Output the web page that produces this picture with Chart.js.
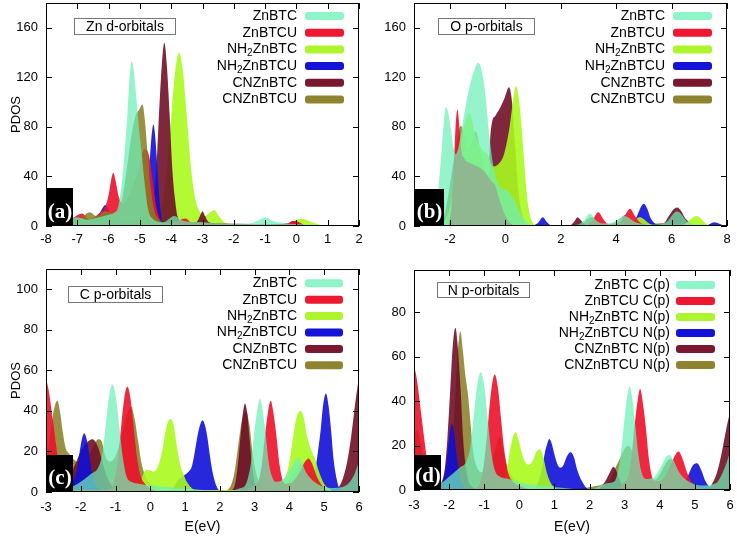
<!DOCTYPE html>
<html>
<head>
<meta charset="utf-8">
<script src="https://cdn.jsdelivr.net/npm/chart.js@4.4.1/dist/chart.umd.min.js"></script>
<style>
  body { margin: 0; background: #fff; }
  #wrap { position: relative; width: 737px; height: 542px; }
  .panel { position: absolute; }
  canvas { display: block; }
</style>
</head>
<body>
<div id="wrap">
  <div class="panel" style="left:0;top:0"><canvas id="chartA" width="368" height="250" style="width:368px;height:250px"></canvas></div>
  <div class="panel" style="left:368px;top:0"><canvas id="chartB" width="369" height="250" style="width:369px;height:250px"></canvas></div>
  <div class="panel" style="left:0;top:250px"><canvas id="chartC" width="368" height="292" style="width:368px;height:292px"></canvas></div>
  <div class="panel" style="left:368px;top:250px"><canvas id="chartD" width="369" height="292" style="width:369px;height:292px"></canvas></div>
</div>
<script>
// legend names
const seriesNames = ["ZnBTC", "ZnBTCU", "NH₂ZnBTC", "NH₂ZnBTCU", "CNZnBTC", "CNZnBTCU"];
const seriesNamesN = ["ZnBTC C(p)", "ZnBTCU C(p)", "NH₂ZnBTC N(p)", "NH₂ZnBTCU N(p)", "CNZnBTC N(p)", "CNZnBTCU N(p)"];

// tick labels
const xTicksA = [-8, -7, -6, -5, -4, -3, -2, -1, 0, 1, 2];
const xTicksB = [-2, 0, 2, 4, 6, 8];
const xTicksCD = [-3, -2, -1, 0, 1, 2, 3, 4, 5, 6];
const yTicksAB = [0, 40, 80, 120, 160];
const yTicksC = [0, 20, 40, 60, 80, 100];
const yTicksD = [0, 20, 40, 60, 80];

// (a) Zn d-orbitals : [E, PDOS]
const znZnBTC = [[-7.3,5],[-7.0,7],[-6.7,5],[-6.3,7],[-6.0,9],[-5.8,11],[-5.7,15],[-5.6,30],[-5.5,55],[-5.4,90],[-5.33,120],[-5.27,133],[-5.2,126],[-5.12,105],[-5.04,82],[-4.95,60],[-4.85,35],[-4.75,15],[-4.6,6],[-4.25,3],[-3.9,8],[-3.6,4],[-3.0,3],[-2.5,2],[-1.5,2],[-1.25,4],[-1.0,7],[-0.75,4],[-0.3,2],[0.5,1],[1.0,0]];
const znZnBTCU = [[-7.3,4],[-7.1,7],[-6.85,10],[-6.6,5],[-6.3,10],[-6.1,16],[-6.0,25],[-5.92,37],[-5.85,43],[-5.78,37],[-5.68,24],[-5.55,18],[-5.3,28],[-5.05,45],[-4.85,62],[-4.72,58],[-4.6,38],[-4.48,16],[-4.35,5],[-4.2,2],[-3.9,3],[-3.55,6],[-3.3,2],[-3.0,3],[-2.7,1],[-2.2,2],[-1.0,1],[-0.3,2],[-0.05,4],[0.3,0]];
const znNH2ZnBTC = [[-4.6,2],[-4.4,6],[-4.27,20],[-4.14,45],[-4.01,85],[-3.88,123],[-3.75,140],[-3.62,123],[-3.49,85],[-3.36,45],[-3.23,22],[-3.1,12],[-2.92,8],[-2.75,11],[-2.62,13],[-2.48,8],[-2.3,3],[-2.0,1],[-0.4,1],[-0.1,4],[0.15,6],[0.5,3],[0.9,0]];
const znNH2ZnBTCU = [[-7.0,2],[-6.6,5],[-6.3,10],[-6.1,17],[-5.9,8],[-5.5,5],[-5.1,6],[-4.87,8],[-4.81,13],[-4.75,26],[-4.69,50],[-4.63,72],[-4.57,82],[-4.51,72],[-4.45,50],[-4.39,26],[-4.33,11],[-4.27,3],[-4.0,1]];
const znCNZnBTC = [[-7.3,3],[-6.8,4],[-6.3,5],[-5.5,4],[-4.8,5],[-4.65,9],[-4.56,22],[-4.47,48],[-4.39,90],[-4.3,130],[-4.22,148],[-4.14,130],[-4.05,90],[-3.97,48],[-3.88,22],[-3.8,8],[-3.6,3],[-3.2,3],[-3.08,8],[-3.0,12],[-2.92,8],[-2.8,3],[-2.5,2],[-1.5,1],[-0.3,2],[-0.1,4],[0.2,0]];
const znCNZnBTCU = [[-7.3,4],[-6.9,6],[-6.6,11],[-6.4,8],[-6.1,12],[-5.8,10],[-5.6,18],[-5.45,40],[-5.3,68],[-5.15,88],[-5.02,94],[-4.92,98],[-4.84,85],[-4.76,60],[-4.66,32],[-4.55,14],[-4.4,5],[-4.1,2],[-3.5,1]];

// (b) O p-orbitals
const oZnBTC = [[-2.6,0],[-2.5,12],[-2.4,35],[-2.3,62],[-2.22,85],[-2.15,96],[-2.07,92],[-1.98,80],[-1.88,64],[-1.8,58],[-1.7,63],[-1.6,75],[-1.45,95],[-1.3,112],[-1.12,126],[-0.98,132],[-0.86,126],[-0.74,110],[-0.62,82],[-0.5,58],[-0.38,42],[-0.2,32],[0.1,28],[0.35,20],[0.6,8],[0.85,2],[1.1,0],[2.6,1],[2.85,5],[3.05,10],[3.25,5],[3.5,2],[3.9,3],[4.3,8],[4.7,3],[5.3,1],[5.8,3],[6.2,12],[6.6,3],[7.1,1],[7.6,0]];
const oZnBTCU = [[-2.05,0],[-1.95,15],[-1.87,45],[-1.8,80],[-1.73,94],[-1.66,80],[-1.6,62],[-1.5,55],[-1.2,50],[-0.8,45],[-0.5,36],[-0.38,33],[-0.2,20],[0.0,8],[0.2,2],[0.4,0],[2.9,0],[3.15,5],[3.35,11],[3.55,5],[3.75,1],[4.1,2],[4.3,8],[4.5,14],[4.68,8],[4.85,3],[5.05,1],[5.3,0]];
const oNH2ZnBTC = [[-2.3,0],[-2.0,15],[-1.7,55],[-1.5,80],[-1.3,91],[-1.1,75],[-0.85,62],[-0.65,58],[-0.45,48],[-0.25,50],[-0.05,58],[0.15,80],[0.27,100],[0.38,113],[0.5,100],[0.6,75],[0.7,45],[0.8,20],[0.92,6],[1.05,1],[1.2,0],[4.4,1],[4.85,7],[5.3,1],[6.4,1],[6.9,8],[7.3,1],[7.6,0]];
const oNH2ZnBTCU = [[1.0,0],[1.2,3],[1.35,7],[1.5,3],[1.7,0],[4.55,1],[4.75,8],[4.88,15],[5.0,18],[5.12,14],[5.25,6],[5.5,1],[7.2,0],[7.55,3],[7.9,0]];
const oCNZnBTC = [[-0.72,0],[-0.62,30],[-0.55,70],[-0.48,84],[-0.36,89],[-0.2,95],[-0.02,104],[0.13,112],[0.24,100],[0.35,65],[0.47,28],[0.62,8],[0.8,0],[2.3,0],[2.5,4],[2.6,7],[2.75,4],[2.95,0],[5.7,2],[5.9,8],[6.05,13],[6.2,15],[6.35,12],[6.5,6],[6.8,1],[7.1,0]];
const oCNZnBTCU = [[-2.3,0],[-2.1,20],[-1.85,55],[-1.6,81],[-1.45,68],[-1.35,61],[-1.2,68],[-1.07,76],[-0.9,60],[-0.7,40],[-0.5,30],[-0.2,22],[0.1,12],[0.4,4],[0.7,0],[2.7,1],[3.1,7],[3.5,1],[4.0,3],[4.35,9],[4.7,2],[5.8,2],[6.2,10],[6.6,2],[7.2,0]];

// (c) C p-orbitals
const cZnBTC = [[-2.3,2],[-2.0,5],[-1.7,9],[-1.5,12],[-1.39,18],[-1.29,32],[-1.19,47],[-1.09,53],[-0.99,47],[-0.89,32],[-0.79,17],[-0.69,8],[-0.55,5],[-0.3,4],[0.2,3],[0.8,2],[1.5,1],[2.1,0],[2.6,2],[2.72,3],[2.81,7],[2.9,15],[2.98,28],[3.07,40],[3.15,46],[3.23,40],[3.32,28],[3.4,15],[3.49,8],[3.6,5],[3.8,6],[4.05,12],[4.26,17],[4.5,9],[4.8,4],[5.2,2],[5.6,3],[5.85,8],[6.0,15]];
const cZnBTCU = [[-3.0,56],[-2.92,50],[-2.8,35],[-2.7,22],[-2.6,10],[-2.5,3],[-2.3,1],[-1.5,1],[-1.11,2],[-1.02,7],[-0.93,17],[-0.84,32],[-0.75,46],[-0.66,52],[-0.57,46],[-0.48,32],[-0.39,18],[-0.3,9],[-0.15,4],[0.1,1],[0.5,0],[2.7,1],[2.95,3],[3.12,6],[3.21,14],[3.29,27],[3.38,39],[3.46,45],[3.54,39],[3.63,27],[3.71,14],[3.8,6],[3.9,4],[4.1,5],[4.3,10],[4.45,15],[4.55,16.5],[4.65,14],[4.8,7],[5.0,2],[5.3,0]];
const cNH2ZnBTC = [[-2.4,1],[-1.5,1],[-0.6,1],[-0.3,4],[-0.2,9],[-0.08,11],[0.1,10],[0.25,14],[0.36,22],[0.45,31],[0.52,35],[0.59,36],[0.67,33],[0.75,24],[0.85,14],[0.95,9],[1.05,5],[1.3,1],[3.4,1],[3.75,4],[3.9,8],[4.0,15],[4.08,24],[4.17,34],[4.25,39],[4.33,40],[4.42,36],[4.5,28],[4.6,22],[4.72,17],[4.85,10],[5.0,4],[5.2,1]];
const cNH2ZnBTCU = [[-2.3,4],[-2.18,7],[-2.11,11],[-2.04,19],[-1.97,26],[-1.9,29],[-1.83,26],[-1.76,19],[-1.69,11],[-1.62,6],[-1.5,2],[-1.2,0],[0.6,1],[0.8,6],[0.95,8],[1.1,10],[1.2,13],[1.28,20],[1.36,28],[1.43,33],[1.5,35.4],[1.57,33],[1.64,27],[1.72,17],[1.8,9],[1.9,3],[2.05,0],[4.4,1],[4.6,3],[4.68,7],[4.75,12],[4.82,20],[4.9,31],[4.97,43],[5.05,48.6],[5.12,43],[5.2,30],[5.27,16],[5.35,7],[5.43,2],[5.6,0]];
const cCNZnBTC = [[-2.3,8],[-2.15,14],[-2.0,20],[-1.85,24],[-1.66,26],[-1.5,22],[-1.38,15],[-1.26,8],[-1.1,3],[-0.9,0],[2.2,0],[2.4,2],[2.46,6],[2.52,14],[2.59,27],[2.66,38.5],[2.72,43.7],[2.79,38.5],[2.85,27],[2.92,14],[2.98,6],[3.05,2],[3.3,0],[5.3,1],[5.5,5],[5.65,14],[5.78,28],[5.9,45],[6.0,57]];
const cCNZnBTCU = [[-3.0,15],[-2.9,25],[-2.8,38],[-2.72,44],[-2.67,45],[-2.6,40],[-2.52,30],[-2.44,22],[-2.34,19],[-2.2,16],[-2.0,14],[-1.8,17],[-1.62,23],[-1.5,26],[-1.4,25],[-1.3,18],[-1.15,15],[-0.95,20],[-0.8,30],[-0.68,38],[-0.55,42],[-0.45,36],[-0.35,25],[-0.25,14],[-0.1,6],[0.1,3],[0.4,1],[0.8,0],[2.2,1],[2.4,8],[2.52,22],[2.64,36],[2.75,40],[2.85,33],[2.95,18],[3.08,7],[3.25,2],[3.5,1],[3.9,4],[4.2,12],[4.4,14],[4.7,6],[5.0,2],[5.4,0]];

// (d) N p-orbitals
const nZnBTC = [[-2.3,2],[-2.0,6],[-1.7,10],[-1.5,13],[-1.4,19],[-1.3,33],[-1.2,47],[-1.1,53],[-1.0,47],[-0.9,32],[-0.8,17],[-0.7,9],[-0.55,6],[-0.3,5],[0.1,3],[0.6,2],[1.2,1],[2.0,0],[2.5,3],[2.72,4],[2.8,8],[2.89,16],[2.97,28],[3.06,41],[3.14,46.6],[3.22,41],[3.31,28],[3.39,16],[3.48,8],[3.6,5],[3.85,6],[4.05,11],[4.18,15],[4.28,15.8],[4.4,13],[4.55,8],[4.8,4],[5.2,2],[5.6,3],[5.85,10],[6.0,17]];
const nZnBTCU = [[-3.0,56],[-2.92,50],[-2.8,35],[-2.7,22],[-2.6,10],[-2.5,3],[-2.35,0],[-1.4,0],[-1.15,2],[-1.06,7],[-0.97,17],[-0.88,32],[-0.79,46],[-0.7,52],[-0.61,46],[-0.52,32],[-0.43,18],[-0.34,9],[-0.2,4],[0.0,2],[0.4,0],[2.7,0],[2.95,3],[3.1,6],[3.19,14],[3.27,27],[3.36,39],[3.44,45.4],[3.52,39],[3.61,27],[3.69,14],[3.78,6],[3.9,4],[4.1,5],[4.3,11],[4.45,16],[4.54,17.3],[4.65,14],[4.8,7],[5.0,2],[5.3,0]];
const nNH2ZnBTC = [[-0.6,0],[-0.45,3],[-0.35,10],[-0.25,19],[-0.18,24],[-0.11,26],[-0.03,23],[0.05,18],[0.15,13],[0.27,11.3],[0.38,13],[0.48,17],[0.59,18.3],[0.68,15],[0.78,8],[0.9,3],[1.1,0]];
const nNH2ZnBTCU = [[-2.3,1],[-2.22,2],[-2.16,5],[-2.1,10],[-2.04,18],[-1.98,26],[-1.92,29.8],[-1.86,26],[-1.8,18],[-1.74,10],[-1.68,5],[-1.6,2],[-1.4,0],[0.4,0],[0.55,4],[0.65,10],[0.73,17],[0.8,21],[0.85,22.9],[0.92,21],[1.0,16],[1.1,11],[1.17,10],[1.25,11],[1.35,15],[1.46,17],[1.55,15],[1.65,9],[1.78,4],[2.0,0],[4.5,0],[4.7,3],[4.82,7],[4.94,11],[5.06,12],[5.18,9],[5.3,4],[5.45,1],[5.7,0]];
const nCNZnBTC = [[-2.3,2],[-2.2,4],[-2.12,10],[-2.05,23],[-1.97,44.5],[-1.9,64],[-1.82,73],[-1.75,64],[-1.67,44.5],[-1.6,23],[-1.52,10],[-1.45,4],[-1.3,1],[-1.1,0],[2.2,0],[2.45,4],[2.58,8],[2.68,10.5],[2.78,8],[2.9,3],[3.05,0],[5.3,0],[5.5,3],[5.65,9],[5.78,18],[5.9,28],[6.0,35]];
const nCNZnBTCU = [[-3.0,26],[-2.9,27],[-2.8,20],[-2.7,10],[-2.6,4],[-2.4,0],[-2.1,2],[-2.03,3],[-1.96,10],[-1.89,23],[-1.82,43.5],[-1.75,63],[-1.68,71.4],[-1.61,63],[-1.54,52],[-1.47,44],[-1.4,32],[-1.32,18],[-1.2,10],[-1.05,8],[-0.9,9],[-0.78,13],[-0.66,20],[-0.55,24],[-0.45,18],[-0.35,11],[-0.2,6],[0.2,2],[0.6,0],[2.5,3],[2.8,12],[3.1,20],[3.35,12],[3.6,4],[3.9,5],[4.3,14],[4.6,6],[5.0,2],[5.6,1],[6.0,1]];

Chart.defaults.font.family = "'Liberation Sans', Arial, Helvetica, sans-serif";
Chart.defaults.font.size = 13;
Chart.defaults.color = '#000';

const fillColors = ['rgba(110,240,185,0.72)', 'rgba(236,18,42,0.9)', 'rgba(168,250,30,0.9)', 'rgba(15,15,215,0.9)', 'rgba(112,16,40,0.9)', 'rgba(135,125,35,0.85)'];
const keyColors = ['#8ef5c8', '#ee1830', '#adf52c', '#1414d8', '#7a1830', '#8e8430'];

const SANS = "'Liberation Sans', Arial, Helvetica, sans-serif";

function drawName(ctx, text, xRight, y) {
  // draws "NH₂..." with a lowered small 2
  const parts = text.split('₂');
  const big = '14px ' + SANS, small = '10px ' + SANS;
  const segs = [];
  parts.forEach((t, i) => {
    if (i > 0) segs.push({ t: '2', f: small, dy: 4 });
    if (t) segs.push({ t: t, f: big, dy: 0 });
  });
  let w = 0;
  segs.forEach(s => { ctx.font = s.f; s.w = ctx.measureText(s.t).width; w += s.w; });
  let x = xRight - w;
  ctx.textAlign = 'left';
  ctx.textBaseline = 'middle';
  segs.forEach(s => { ctx.font = s.f; ctx.fillText(s.t, x, y + s.dy); x += s.w; });
}

function makeDecor(p) {
  return {
    id: 'decor',
    afterDatasetsDraw(chart) {
      const { ctx, chartArea: a } = chart;
      const xs = chart.scales.x, ys = chart.scales.y;
      ctx.save();

      // panel tag
      ctx.fillStyle = '#000';
      ctx.fillRect(a.left, p.tagTop, p.tagW, a.bottom - p.tagTop);
      ctx.fillStyle = '#fff';
      ctx.font = "bold 21px 'Liberation Serif', 'DejaVu Serif', serif";
      ctx.textAlign = 'center';
      ctx.textBaseline = 'alphabetic';
      ctx.fillText(p.tag, a.left + p.tagW / 2 + 0.5, a.bottom - 8);

      // frame and inward ticks
      ctx.strokeStyle = '#000';
      ctx.lineWidth = 1;
      ctx.strokeRect(a.left + 0.5, a.top + 0.5, a.right - a.left - 1, a.bottom - a.top - 1);
      ctx.beginPath();
      xs.ticks.forEach(t => {
        const px = Math.round(xs.getPixelForValue(t.value)) + 0.5;
        ctx.moveTo(px, a.bottom); ctx.lineTo(px, a.bottom - 6);
        ctx.moveTo(px, a.top); ctx.lineTo(px, a.top + 6);
      });
      ys.ticks.forEach(t => {
        const py = Math.round(ys.getPixelForValue(t.value)) + 0.5;
        ctx.moveTo(a.left, py); ctx.lineTo(a.left + 6, py);
        ctx.moveTo(a.right, py); ctx.lineTo(a.right - 6, py);
      });
      ctx.stroke();

      // orbital title box
      const tb = p.titleBox;
      ctx.fillStyle = '#fff';
      ctx.fillRect(tb[0], tb[1], tb[2], tb[3]);
      ctx.strokeStyle = '#777';
      ctx.strokeRect(tb[0] + 0.5, tb[1] + 0.5, tb[2] - 1, tb[3] - 1);
      ctx.fillStyle = '#000';
      ctx.font = '14px ' + SANS;
      ctx.textAlign = 'center';
      ctx.textBaseline = 'middle';
      ctx.fillText(p.title, tb[0] + tb[2] / 2, tb[1] + tb[3] / 2 + 1);

      // key
      const k = p.key;
      chart.data.datasets.forEach((ds, i) => {
        const y = k.y0 + i * k.dy;
        ctx.fillStyle = '#000';
        drawName(ctx, ds.label, k.right, y);
        ctx.fillStyle = keyColors[i];
        ctx.beginPath();
        if (ctx.roundRect) ctx.roundRect(k.s0, y - 4, k.s1 - k.s0, 8, 3);
        else ctx.rect(k.s0, y - 4, k.s1 - k.s0, 8);
        ctx.fill();
      });
      ctx.restore();
    }
  };
}

function buildChart(p) {
  const datasets = p.series.map((pts, i) => ({
    label: p.names[i],
    data: pts.map(q => ({ x: q[0], y: q[1] })),
    backgroundColor: fillColors[i],
    borderColor: 'rgba(0,0,0,0)',
    borderWidth: 0,
    fill: 'origin',
    pointRadius: 0,
    cubicInterpolationMode: 'monotone',
    // order 0 is painted last (on top)
    order: p.stack.indexOf(i)
  }));
  return new Chart(document.getElementById(p.id), {
    type: 'line',
    data: { datasets },
    plugins: [makeDecor(p)],
    options: {
      responsive: false,
      animation: false,
      devicePixelRatio: 1,
      layout: { padding: { top: p.padTop, right: p.padRight, left: 0, bottom: 0 } },
      plugins: { legend: { display: false }, tooltip: { enabled: false } },
      scales: {
        x: {
          type: 'linear', min: p.xMin, max: p.xMax,
          grid: { display: false, drawTicks: false },
          border: { display: false },
          ticks: { padding: p.xPad, maxRotation: 0, autoSkip: false, callback: v => String(v) },
          title: { display: !!p.xTitle, text: p.xTitle, font: { size: 14 }, padding: { top: 0, bottom: 6 } },
          afterBuildTicks: s => { s.ticks = p.xTicks.map(v => ({ value: v })); },
          afterFit: s => { s.height = p.xH; s.paddingLeft = 0; s.paddingRight = 0; }
        },
        y: {
          type: 'linear', min: 0, max: p.yMax,
          grid: { display: false, drawTicks: false },
          border: { display: false },
          ticks: { padding: 8, callback: v => String(v) },
          title: { display: !!p.yTitle, text: p.yTitle, font: { size: 13 }, padding: { top: 9, bottom: 0 } },
          afterBuildTicks: s => { s.ticks = p.yTicks.map(v => ({ value: v })); },
          afterFit: s => { s.width = 46; s.paddingTop = 0; s.paddingBottom = 0; }
        }
      }
    }
  });
}

buildChart({
  id: 'chartA', names: seriesNames, stack: [0, 5, 1, 3, 4, 2],
  series: [znZnBTC, znZnBTCU, znNH2ZnBTC, znNH2ZnBTCU, znCNZnBTC, znCNZnBTCU],
  xMin: -8, xMax: 2, xTicks: xTicksA, yMax: 180, yTicks: yTicksAB,
  xTitle: '', yTitle: 'PDOS', padTop: 3, padRight: 9, xH: 24, xPad: 6,
  tag: '(a)', tagTop: 188, tagW: 27,
  title: 'Zn d-orbitals', titleBox: [74, 18, 102, 17],
  key: { right: 297, s0: 305, s1: 344, y0: 16, dy: 16.7 }
});
buildChart({
  id: 'chartB', names: seriesNames, stack: [0, 1, 2, 3, 4, 5],
  series: [oZnBTC, oZnBTCU, oNH2ZnBTC, oNH2ZnBTCU, oCNZnBTC, oCNZnBTCU],
  xMin: -3.3, xMax: 8, xTicks: xTicksB, yMax: 180, yTicks: yTicksAB,
  xTitle: '', yTitle: '', padTop: 3, padRight: 10, xH: 24, xPad: 6,
  tag: '(b)', tagTop: 189, tagW: 30,
  title: 'O p-orbitals', titleBox: [70, 18, 97, 17],
  key: { right: 297, s0: 305, s1: 344, y0: 16, dy: 16.7 }
});
buildChart({
  id: 'chartC', names: seriesNames, stack: [0, 1, 2, 3, 4, 5],
  series: [cZnBTC, cZnBTCU, cNH2ZnBTC, cNH2ZnBTCU, cCNZnBTC, cCNZnBTCU],
  xMin: -3, xMax: 6, xTicks: xTicksCD, yMax: 110, yTicks: yTicksC,
  xTitle: 'E(eV)', yTitle: 'PDOS', padTop: 19, padRight: 9, xH: 50, xPad: 8,
  tag: '(c)', tagTop: 205, tagW: 27,
  title: 'C p-orbitals', titleBox: [68, 36, 95, 17],
  key: { right: 297, s0: 305, s1: 343, y0: 33.3, dy: 16.4 }
});
buildChart({
  id: 'chartD', names: seriesNamesN, stack: [0, 1, 2, 3, 4, 5],
  series: [nZnBTC, nZnBTCU, nNH2ZnBTC, nNH2ZnBTCU, nCNZnBTC, nCNZnBTCU],
  xMin: -3, xMax: 6, xTicks: xTicksCD, yMax: 99, yTicks: yTicksD,
  xTitle: 'E(eV)', yTitle: '', padTop: 20, padRight: 7, xH: 52, xPad: 8,
  tag: '(d)', tagTop: 205, tagW: 27,
  title: 'N p-orbitals', titleBox: [69, 32, 93, 16],
  key: { right: 302, s0: 308, s1: 347, y0: 35, dy: 16 }
});
</script>
</body>
</html>
